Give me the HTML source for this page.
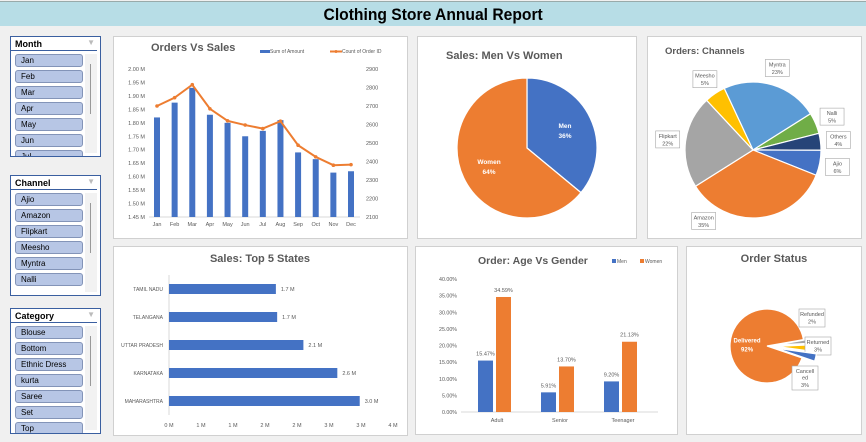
<!DOCTYPE html>
<html><head><meta charset="utf-8">
<style>
*{margin:0;padding:0;box-sizing:border-box}
body{width:866px;height:442px;background:#f0f0f0;font-family:"Liberation Sans",sans-serif;position:relative;overflow:hidden}
#titlebar{position:absolute;left:0;top:1px;width:866px;height:25px;background:#b7dde6;border-top:1px solid #9aa;text-align:center;font-weight:bold;font-size:17px;line-height:25px;color:#000}
#titlebar span{display:inline-block;transform:scaleX(0.92)}
.card{position:absolute;background:#fff;border:1px solid #d0d0d0}
.slicer{position:absolute;background:#fff;border:1px solid #3a5fa0;left:10px;width:91px}
.sh{font-size:9px;font-weight:bold;padding:2px 0 0 4px;height:14px;border-bottom:1px solid #3a5fa0;margin:0 3px 0 0;position:relative}
.sh span.fi{position:absolute;right:2px;top:1px;color:#bbb;font-size:8px}
.item{margin:3px 0 0 4px;width:68px;height:13px;background:#b7c6e5;border:1px solid #8394b8;border-radius:3px;font-size:8px;line-height:11px;padding-left:5px;color:#000}
.track{position:absolute;right:3px;top:17px;width:12px;bottom:3px;background:#f2f2f2}
.track i{position:absolute;left:5px;top:10px;width:1px;height:50px;background:#999}
svg{position:absolute;left:0;top:0}
</style></head><body>
<div id="titlebar"><span>Clothing Store Annual Report</span></div>

<div class="slicer" style="top:36px;height:121px;overflow:hidden">
<div class="sh">Month<span class="fi">&#9660;</span></div>
<div class="track"><i></i></div>
<div class="item">Jan</div>
<div class="item">Feb</div>
<div class="item">Mar</div>
<div class="item">Apr</div>
<div class="item">May</div>
<div class="item">Jun</div>
<div class="item">Jul</div>
</div>

<div class="slicer" style="top:175px;height:121px;overflow:hidden">
<div class="sh">Channel<span class="fi">&#9660;</span></div>
<div class="track"><i></i></div>
<div class="item">Ajio</div>
<div class="item">Amazon</div>
<div class="item">Flipkart</div>
<div class="item">Meesho</div>
<div class="item">Myntra</div>
<div class="item">Nalli</div>
</div>

<div class="slicer" style="top:308px;height:126px;overflow:hidden">
<div class="sh">Category<span class="fi">&#9660;</span></div>
<div class="track"><i></i></div>
<div class="item">Blouse</div>
<div class="item">Bottom</div>
<div class="item">Ethnic Dress</div>
<div class="item">kurta</div>
<div class="item">Saree</div>
<div class="item">Set</div>
<div class="item">Top</div>
</div>

<div class="card" style="left:113px;top:36px;width:295px;height:203px"></div>
<div class="card" style="left:417px;top:36px;width:220px;height:203px"></div>
<div class="card" style="left:647px;top:36px;width:215px;height:203px"></div>
<div class="card" style="left:113px;top:246px;width:295px;height:190px"></div>
<div class="card" style="left:415px;top:246px;width:263px;height:189px"></div>
<div class="card" style="left:686px;top:246px;width:176px;height:189px"></div>

<svg id="s" width="866" height="442" xmlns="http://www.w3.org/2000/svg" font-family="Liberation Sans, sans-serif"></svg>

<script>
// Orders vs Sales
const months = ['Jan','Feb','Mar','Apr','May','Jun','Jul','Aug','Sep','Oct','Nov','Dec'];
const salesM = [1.82,1.875,1.93,1.83,1.80,1.75,1.77,1.81,1.69,1.665,1.615,1.62];
const orderCount = [2700,2745,2815,2685,2620,2597,2578,2618,2488,2425,2380,2383];
const salesTicks = ['1.45 M','1.50 M','1.55 M','1.60 M','1.65 M','1.70 M','1.75 M','1.80 M','1.85 M','1.90 M','1.95 M','2.00 M'];
const countTicks = ['2100','2200','2300','2400','2500','2600','2700','2800','2900'];
// Men vs women
const genders = ['Men','Women'];
const genderShare = [36,64];
// Channels
const channels = ['Myntra','Nalli','Others','Ajio','Amazon','Flipkart','Meesho'];
const channelShare = [23,5,4,6,35,22,5];
// Top states
const states = ['TAMIL NADU','TELANGANA','UTTAR PRADESH','KARNATAKA','MAHARASHTRA'];
const stateSales = [1.67,1.69,2.10,2.63,2.98];
const stateLabels = ['1.7 M','1.7 M','2.1 M','2.6 M','3.0 M'];
const stateTicks = ['0 M','1 M','1 M','2 M','2 M','3 M','3 M','4 M'];
// Age vs gender
const ageGroups = ['Adult','Senior','Teenager'];
const menPct = [15.47,5.91,9.20];
const womenPct = [34.59,13.70,21.13];
const pctTicks = ['0.00%','5.00%','10.00%','15.00%','20.00%','25.00%','30.00%','35.00%','40.00%'];
// Order status
const statuses = ['Delivered','Refunded','Returned','Cancelled'];
const statusShare = [92,2,3,3];

const S = document.getElementById('s');
const NS = 'http://www.w3.org/2000/svg';
function mk(tag, a, p){const e=document.createElementNS(NS,tag);for(const k in a)e.setAttribute(k,a[k]);(p||S).appendChild(e);return e;}
function tx(x,y,t,a){const e=mk('text',Object.assign({x:x,y:y,'font-size':6,fill:'#595959'},a||{}));e.textContent=t;return e;}
const BLUE='#4472c4', ORANGE='#ed7d31';

// ---- Chart 1
let t=tx(151,51,'Orders Vs Sales',{'font-size':11,'font-weight':'bold'});


const c1={x0:157,dx:(351-157)/11,yb:217,yt:69};
const ys1=v=>c1.yb-(v-1.45)/(2.00-1.45)*(c1.yb-c1.yt);
const ys2=v=>c1.yb-(v-2100)/(2900-2100)*(c1.yb-c1.yt);
salesTicks.forEach((l,i)=>{const e=tx(145,ys1(1.45+i*0.05)+2,l,{'text-anchor':'end','font-size':5.5});

});
countTicks.forEach((l,i)=>{const e=tx(366,ys2(2100+i*100)+2,l,{'font-size':5.5});

});
let ax=mk('line',{x1:149,x2:360,y1:c1.yb,y2:c1.yb,stroke:'#d9d9d9','stroke-width':1});


months.forEach((m,i)=>{const x=c1.x0+i*c1.dx;
const b=mk('rect',{x:x-3,y:ys1(salesM[i]),width:6,height:c1.yb-ys1(salesM[i]),fill:BLUE});


const l=tx(x,226,m,{'text-anchor':'middle','font-size':5.5});

});
let pts=orderCount.map((v,i)=>(c1.x0+i*c1.dx)+','+ys2(v)).join(' ');
let pl=mk('polyline',{points:pts,fill:'none',stroke:ORANGE,'stroke-width':2});


orderCount.forEach((v,i)=>{const d=mk('circle',{cx:c1.x0+i*c1.dx,cy:ys2(v),r:1.8,fill:ORANGE});

});
let lg=mk('rect',{x:260,y:50,width:10,height:3,fill:BLUE});


tx(270,53,'Sum of Amount',{'font-size':5});
lg=mk('line',{x1:330,x2:342,y1:51.5,y2:51.5,stroke:ORANGE,'stroke-width':2});


mk('circle',{cx:336,cy:51.5,r:1.5,fill:ORANGE});
tx(342,53,'Count of Order ID',{'font-size':5});

function pt(cx,cy,r,a){const rad=a*Math.PI/180;return [cx+r*Math.sin(rad),cy-r*Math.cos(rad)];}
function slice(cx,cy,r,a0,a1,fill){const p0=pt(cx,cy,r,a0),p1=pt(cx,cy,r,a1);const big=(a1-a0)>180?1:0;
return mk('path',{d:`M${cx},${cy}L${p0[0]},${p0[1]}A${r},${r} 0 ${big} 1 ${p1[0]},${p1[1]}Z`,fill:fill,stroke:'#fff','stroke-width':1.2});}

// ---- Chart 2
t=tx(446,59,'Sales: Men Vs Women',{'font-size':11,'font-weight':'bold'});


{let a=0;const cols=[BLUE,ORANGE];const tot=genderShare.reduce((s,v)=>s+v,0);
genderShare.forEach((v,i)=>{const a1=a+v/tot*360;const p=slice(527,148,70,a,a1,cols[i]);


const m=pt(527,148,42,(a+a1)/2);
const l=tx(m[0],m[1]-2,genders[i],{'text-anchor':'middle','font-size':6.5,'font-weight':'bold',fill:'#fff'});


tx(m[0],m[1]+8,v+'%',{'text-anchor':'middle','font-size':6.5,'font-weight':'bold',fill:'#fff'});
a=a1;});}

// ---- Chart 3
t=tx(665,54,'Orders: Channels',{'font-size':9.5,'font-weight':'bold'});


{const cols=['#5b9bd5','#70ad47','#264478','#4472c4','#ed7d31','#a5a5a5','#ffc000'];let a=-25;const tot=channelShare.reduce((s,v)=>s+v,0);
channelShare.forEach((v,i)=>{const a1=a+v/tot*360;const p=slice(753,150,68,a,a1,cols[i]);


let mid=(a+a1)/2; if(mid>150&&mid<200) mid=215;
const m=pt(753,151,86,mid);
const bx=mk('rect',{x:m[0]-12,y:m[1]-9,width:24,height:17,fill:'#fff',stroke:'#a6a6a6','stroke-width':0.6});


const l=tx(m[0],m[1]-2,channels[i],{'text-anchor':'middle','font-size':5.5});


tx(m[0],m[1]+5.5,v+'%',{'text-anchor':'middle','font-size':5.5});
a=a1;});}

// ---- Chart 4
t=tx(260,262,'Sales: Top 5 States',{'font-size':11,'font-weight':'bold','text-anchor':'middle'});


const xs4=v=>169+v*64;
ax=mk('line',{x1:169,x2:169,y1:275,y2:415,stroke:'#d9d9d9'});


stateTicks.forEach((l,i)=>{const e=tx(xs4(i*0.5),427,l,{'text-anchor':'middle','font-size':5.5});

});
states.forEach((s,i)=>{const y=289+i*28;
const b=mk('rect',{x:169,y:y-5,width:xs4(stateSales[i])-169,height:10,fill:BLUE});


const l=tx(163,y+2,s,{'text-anchor':'end','font-size':5});


const v=tx(xs4(stateSales[i])+5,y+2,stateLabels[i],{'font-size':5.5});

});

// ---- Chart 5
t=tx(478,264,'Order: Age Vs Gender',{'font-size':10.5,'font-weight':'bold'});


const ys5=v=>412-v/40*(412-279);
pctTicks.forEach((l,i)=>{const e=tx(457,ys5(i*5)+2,l,{'text-anchor':'end','font-size':5.3});

});
ax=mk('line',{x1:461,x2:658,y1:412,y2:412,stroke:'#d9d9d9'});


const cx5=[497,554,623];
ageGroups.forEach((g,i)=>{const c=cx5[0]+i*((cx5[2]-cx5[0])/2);
const b1=mk('rect',{x:c-19,y:ys5(menPct[i]),width:15,height:412-ys5(menPct[i]),fill:BLUE});


const b2=mk('rect',{x:c-1,y:ys5(womenPct[i]),width:15,height:412-ys5(womenPct[i]),fill:ORANGE});


let l=tx(c-11.5,ys5(menPct[i])-5,menPct[i].toFixed(2)+'%',{'text-anchor':'middle','font-size':5.5});


l=tx(c+6.5,ys5(womenPct[i])-5,womenPct[i].toFixed(2)+'%',{'text-anchor':'middle','font-size':5.5});


l=tx(c,422,g,{'text-anchor':'middle','font-size':5.5});

});
lg=mk('rect',{x:612,y:259,width:4,height:4,fill:BLUE});


tx(617,263,'Men',{'font-size':5});
lg=mk('rect',{x:640,y:259,width:4,height:4,fill:ORANGE});


tx(645,263,'Women',{'font-size':5});

// ---- Chart 6
t=tx(774,262,'Order Status',{'font-size':11,'font-weight':'bold','text-anchor':'middle'});


{const cols=[ORANGE,'#a5a5a5','#ffc000',BLUE];const tot=statusShare.reduce((s,v)=>s+v,0);let a=80-360*statusShare[0]/tot;
const boxes=[null,[812,318],[818,346],[805,375]];
statusShare.forEach((v,i)=>{const a1=a+v/tot*360;const mid=(a+a1)/2;
const off=i===0?[0,0]:pt(0,0,10,mid);
const p=slice(767+off[0],346+off[1],i===0?37:40,a,a1,cols[i]);


if(i===0){const m=pt(767,346,20,mid);
let l=tx(m[0],m[1]-2,statuses[i],{'text-anchor':'middle','font-size':6,'font-weight':'bold',fill:'#fff'});


tx(m[0],m[1]+7,v+'%',{'text-anchor':'middle','font-size':6,'font-weight':'bold',fill:'#fff'});}
else{const b=boxes[i];const h=i===3?23:17;
const r=mk('rect',{x:b[0]-13,y:b[1]-9,width:26,height:h+1,fill:'#fff',stroke:'#a6a6a6','stroke-width':0.6});


const nm=i===3?['Cancell','ed']:[statuses[i]];
nm.forEach((s,j)=>{const l=tx(b[0],b[1]-2+j*6.5,s,{'text-anchor':'middle','font-size':5.5});

});
tx(b[0],b[1]-2+nm.length*6.5+1,v+'%',{'text-anchor':'middle','font-size':5.5});}
a=a1;});}
</script>
</body></html>
